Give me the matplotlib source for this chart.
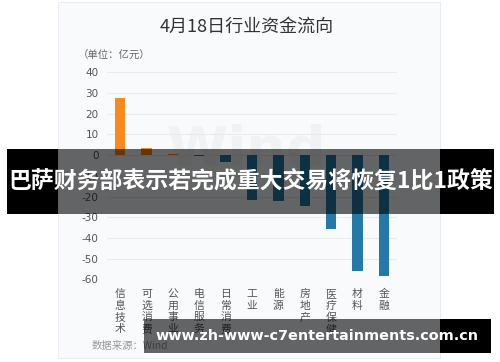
import matplotlib
matplotlib.use("Agg")
import matplotlib.pyplot as plt
from matplotlib.patches import Rectangle

plt.rcParams['font.family'] = ['Noto Sans CJK SC', 'DejaVu Sans']

categories = ['信息技术', '可选消费', '公用事业', '电信服务', '日常消费', '工业',
              '能源', '房地产', '医疗保健', '材料', '金融']
values = [27.5, 3.2, 0.4, -0.4, -3.5, -21.8, -22.2, -24.6, -35.6, -56.2, -58.6]
yticks = [40, 30, 20, 10, 0, -10, -20, -30, -40, -50, -60]

W, H = 500, 362


def fx(px):
    return px / W


def fy(py):
    return 1 - py / H


def rect(x0, y0, x1, y1, **kw):
    # pixel box (top-left origin) -> figure rectangle
    return Rectangle((fx(x0), fy(y1)), fx(x1) - fx(x0), fy(y0) - fy(y1),
                     transform=fig.transFigure, **kw)


fig = plt.figure(figsize=(5, 3.62), dpi=100)
fig.patch.set_facecolor('white')

# card background
fig.add_artist(rect(58, 2, 440, 358, facecolor='#f9fafc', edgecolor='#ebedf0',
                    linewidth=0.8, zorder=-2))

ax = fig.add_axes([fx(107), fy(279.3), fx(397) - fx(107), fy(72.3) - fy(279.3)])
ax.set_facecolor('none')

colors = ['#f7891e' if v >= 0 else '#2479a9' for v in values]
x = list(range(len(categories)))
ax.bar(x, values, width=0.39, color=colors, zorder=2)

ax.set_xlim(-0.5, len(categories) - 0.5)
ax.set_ylim(-60, 40)
ax.set_yticks(yticks)
ax.set_yticklabels([str(t) for t in yticks], color='#555555', fontsize=7.5,
                   family='DejaVu Sans')
ax.set_xticks(x)
ax.set_xticklabels(['\n'.join(c) for c in categories], color='#555555',
                   fontsize=7.8, linespacing=1.2, va='top')
ax.tick_params(axis='both', length=0)
ax.tick_params(axis='y', pad=6)
ax.tick_params(axis='x', pad=7)
for s in ax.spines.values():
    s.set_visible(False)
ax.grid(axis='y', color='#e9ebef', linewidth=0.8, zorder=0)

# watermark
ax.text(fx(246), fy(150), 'Wind', transform=fig.transFigure, fontsize=40,
        fontweight='bold', color='#f1f2f4', ha='center', va='center',
        family='DejaVu Sans', zorder=1)

fig.text(fx(247), fy(27), '4月18日行业资金流向', ha='center', va='center',
         fontsize=13, color='#333333')
fig.text(fx(78), fy(56), '（单位：亿元）', ha='left', va='center',
         fontsize=7.5, color='#666666')
fig.text(fx(92), fy(346), '数据来源：Wind', ha='left', va='center',
         fontsize=7.5, color='#999999')

# top banner
fig.add_artist(rect(7, 149, 58, 214, facecolor='black', edgecolor='none', zorder=5))
fig.add_artist(rect(440, 149, 494, 214, facecolor='black', edgecolor='none', zorder=5))
fig.add_artist(rect(58, 149, 440, 214, facecolor='black', alpha=0.6,
                    edgecolor='none', zorder=5))
fig.text(fx(250.5), fy(181), '巴萨财务部表示若完成重大交易将恢复1比1政策',
         ha='center', va='center', fontsize=16.5, fontweight='bold',
         color='white', zorder=6)

# bottom banner
fig.add_artist(rect(440, 319, 491, 353, facecolor='black', edgecolor='none', zorder=5))
fig.add_artist(rect(144, 319, 440, 353, facecolor='black', alpha=0.6,
                    edgecolor='none', zorder=5))
fig.text(fx(317), fy(336), 'www.zh-www-c7entertainments.com.cn',
         ha='center', va='center', fontsize=10.4, fontweight='bold',
         color='white', family='DejaVu Sans', zorder=6)

fig.savefig('out.png', dpi=100)
